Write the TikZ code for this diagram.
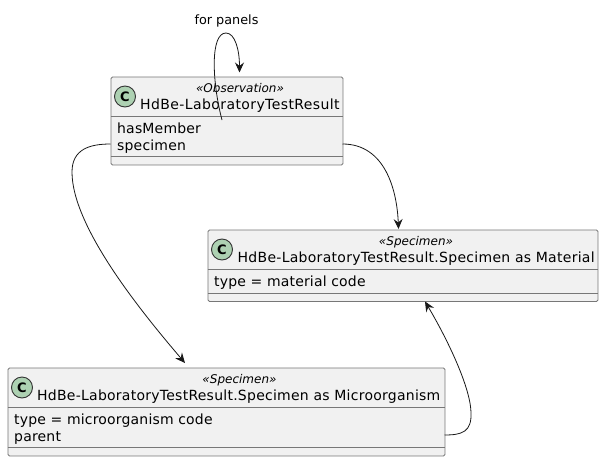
\documentclass[tikz,border=0pt]{standalone}
\usepackage{fontspec}
\setmainfont{DejaVu Sans}
\usetikzlibrary{arrows.meta}
\definecolor{boxfill}{HTML}{F1F1F1}
\definecolor{boxline}{HTML}{777777}
\definecolor{spotfill}{HTML}{ADD1B2}
\tikzset{
  classbox/.style={draw=boxline, fill=boxfill, line width=0.9pt, rounded corners=1.5pt, inner sep=0pt, anchor=north west},
  spot/.style={circle, draw=black!80, fill=spotfill, line width=0.9pt, minimum size=21pt, inner sep=0pt, font=\fontsize{13}{13}\selectfont\bfseries},
  stereo/.style={inner sep=0pt, anchor=base, font=\fontsize{12}{12}\selectfont\itshape},
  title/.style={inner sep=0pt, anchor=base west, font=\fontsize{14}{14}\selectfont\addfontfeature{LetterSpace=#1}},
  title/.default=2,
  field/.style={inner sep=0pt, anchor=base west, font=\fontsize{14}{14}\selectfont\addfontfeature{LetterSpace=1.3}},
  edgelabel/.style={inner sep=0pt, anchor=base, font=\fontsize{12.8}{13}\selectfont},
  assoc/.style={draw=black!90, line width=0.8pt, -{Stealth[length=10pt,width=9pt,inset=3.5pt]}}
}
\begin{document}
\begin{tikzpicture}[x=1pt,y=-1pt]
\useasboundingbox (0,0) rectangle (603,461);
% observation
\node [classbox, minimum width=232pt, minimum height=88pt] (result) at (110.5,76.5) {};
\draw [boxline, line width=0.9pt] (110.5,116.5) -- (342.5,116.5);
\draw [boxline, line width=0.9pt] (110.5,156.5) -- (342.5,156.5);
\node [spot] (resultspot) at (125,96.5) {C};
\node [stereo] (resultstereo) at (240,92) {«Observation»};
\node [title=2.9] (resulttitle) at (140,109) {HdBe-LaboratoryTestResult};
\node [field] (hasmember) at (117,133) {hasMember};
\node [field] (specimen) at (117,150) {specimen};
% material
\node [classbox, minimum width=390pt, minimum height=71.5pt] (material) at (207.5,229.5) {};
\draw [boxline, line width=0.9pt] (207.5,269.5) -- (597.5,269.5);
\draw [boxline, line width=0.9pt] (207.5,293.5) -- (597.5,293.5);
\node [spot] (materialspot) at (222,249.5) {C};
\node [stereo] (materialstereo) at (416,245) {«Specimen»};
\node [title=2] (materialtitle) at (237.5,262) {HdBe-LaboratoryTestResult.Specimen as Material};
\node [field] (materialtype) at (214,286) {type = material code};
% microorganism
\node [classbox, minimum width=437pt, minimum height=88pt] (micro) at (7.5,367.5) {};
\draw [boxline, line width=0.9pt] (7.5,407.5) -- (444.5,407.5);
\draw [boxline, line width=0.9pt] (7.5,447.5) -- (444.5,447.5);
\node [spot] (microspot) at (22,387.5) {C};
\node [stereo] (microstereo) at (239.5,383) {«Specimen»};
\node [title=1.8] (microtitle) at (37,400) {HdBe-LaboratoryTestResult.Specimen as Microorganism};
\node [field] (microtype) at (14,424) {type = microorganism code};
\node [field] (parent) at (14,441) {parent};
% free ends on the boxes
\coordinate (loopstart) at (222,120);
\coordinate (loopend) at (239.5,72.5);
\coordinate (specimenleft) at (110.5,144);
\coordinate (specimenright) at (342.5,144);
\coordinate (materialtop) at (398.5,229);
\coordinate (microtop) at (185,363);
\coordinate (parentright) at (444.5,435);
\coordinate (materialbottom) at (425,301.5);
% associations
\node [edgelabel] (panels) at (226.5,24) {for panels};
\draw [assoc] (loopstart) .. controls (212,82) and (210,33) .. (226,33) .. controls (235,33) and (239.5,50) .. (loopend);
\draw [assoc] (specimenleft) .. controls (90,144) and (72,149) .. (72,172) .. controls (72,228) and (145,316) .. (microtop);
\draw [assoc] (specimenright) .. controls (385,144) and (397,190) .. (materialtop);
\draw [assoc] (parentright) .. controls (462,435) and (472,432) .. (471,412) .. controls (470,385) and (445,335) .. (materialbottom);
\end{tikzpicture}
\end{document}
